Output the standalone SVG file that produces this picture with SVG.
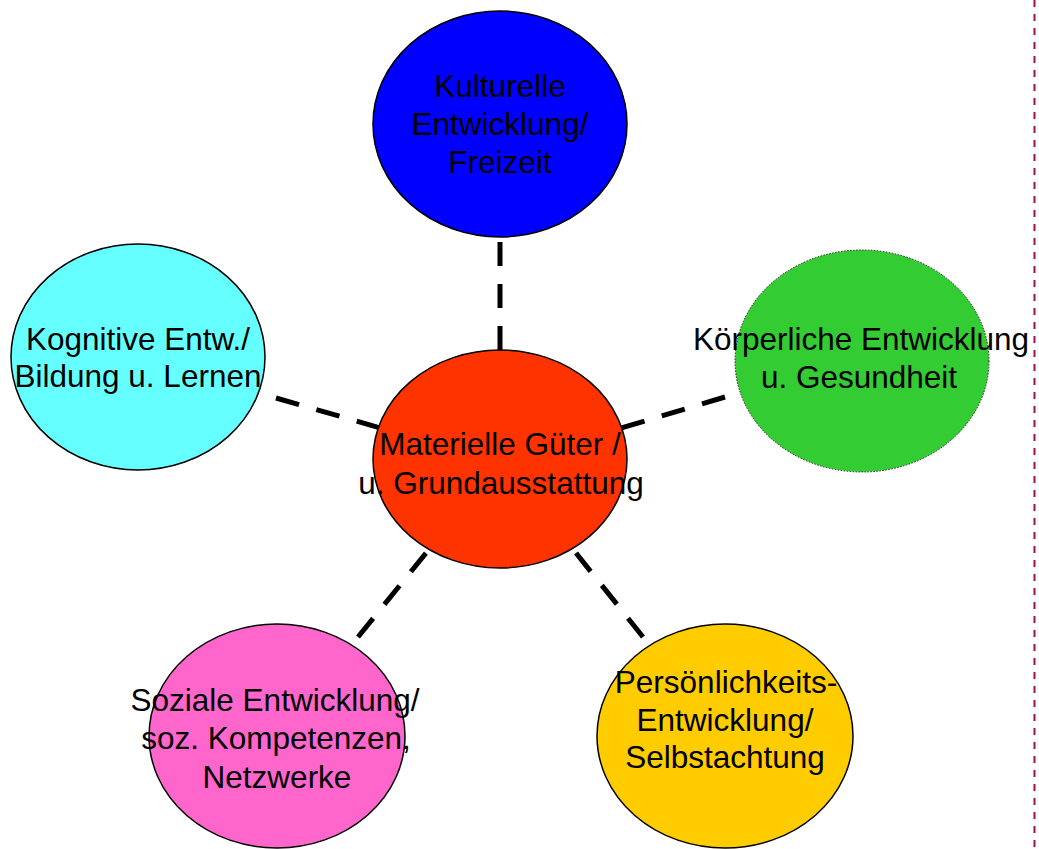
<svg xmlns="http://www.w3.org/2000/svg" width="1039" height="849" viewBox="0 0 1039 849">
<style>
.n{stroke:#000;stroke-width:1.5}
.t{font-family:"Liberation Sans",Arial,sans-serif;font-size:31.5px;fill:#000;text-anchor:middle}
.c{stroke:#000;stroke-width:5;stroke-dasharray:24 18;fill:none}
</style>
<rect width="1039" height="849" fill="#fff"/>
<line x1="1034.5" y1="0" x2="1034.5" y2="849" stroke="#A0124A" stroke-width="2" stroke-dasharray="7 7"/>
<g id="connectors">
<line class="c" x1="500" y1="242" x2="500" y2="352"/>
<line class="c" x1="276" y1="398" x2="384" y2="429"/>
<line class="c" x1="725" y1="397" x2="618" y2="429"/>
<line class="c" x1="358" y1="637" x2="426" y2="553"/>
<line class="c" x1="643" y1="637" x2="576" y2="553"/>
</g>
<g id="kultur">
<ellipse class="n" cx="500" cy="124" rx="127" ry="113" fill="#0000FF"/>
<text class="t" x="500" y="97">Kulturelle</text>
<text class="t" x="500" y="135">Entwicklung/</text>
<text class="t" x="500" y="173">Freizeit</text>
</g>
<g id="kognitiv">
<ellipse class="n" cx="138" cy="357" rx="127" ry="113" fill="#66FFFF"/>
<text class="t" x="138" y="350">Kognitive Entw./</text>
<text class="t" x="138" y="387">Bildung u. Lernen</text>
</g>
<g id="koerper">
<ellipse cx="862" cy="361" rx="127" ry="111" fill="#33CC33" stroke="#222" stroke-width="1" stroke-dasharray="1.5 1.5"/>
<text class="t" x="861" y="350">Körperliche Entwicklung</text>
<text class="t" x="859" y="388">u. Gesundheit</text>
</g>
<g id="materiell">
<ellipse class="n" cx="500" cy="459" rx="127" ry="109" fill="#FF3300"/>
<text class="t" x="500" y="455">Materielle Güter /</text>
<text class="t" x="501" y="494">u. Grundausstattung</text>
</g>
<g id="sozial">
<ellipse class="n" cx="277" cy="736" rx="128" ry="112" fill="#FF66CC"/>
<text class="t" x="275" y="711">Soziale Entwicklung/</text>
<text class="t" x="276" y="749">soz. Kompetenzen,</text>
<text class="t" x="277" y="788">Netzwerke</text>
</g>
<g id="persoenlichkeit">
<ellipse class="n" cx="725" cy="736" rx="128" ry="112" fill="#FFCC00"/>
<text class="t" x="726" y="693">Persönlichkeits-</text>
<text class="t" x="725" y="731">Entwicklung/</text>
<text class="t" x="725" y="768">Selbstachtung</text>
</g>
</svg>
